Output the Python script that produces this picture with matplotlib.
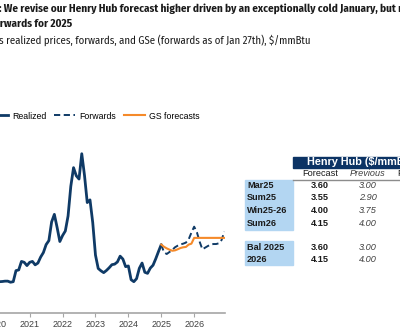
import numpy as np
import matplotlib
matplotlib.use("Agg")
import matplotlib.pyplot as plt
from matplotlib.lines import Line2D
from matplotlib.patches import Rectangle

# monthly Henry Hub, $/mmBtu, Jan 2020 .. Jan 2025
realized = [1.75, 1.73, 1.74, 1.76, 1.76, 1.70, 1.73, 2.34, 2.38, 2.85, 2.80, 2.62,
            2.80, 2.85, 2.66, 2.76, 3.09, 3.34, 3.78, 4.00, 5.03, 5.45, 4.73, 3.95,
            4.28, 4.53, 5.36, 7.00, 8.03, 7.58, 7.40, 8.80, 7.60, 6.10, 6.25, 5.00,
            3.20, 2.46, 2.33, 2.23, 2.35, 2.50, 2.67, 2.70, 2.82, 3.14, 2.98, 2.56,
            2.60, 1.84, 1.73, 1.90, 2.47, 2.76, 2.25, 2.19, 2.48, 2.64, 3.00, 3.40,
            3.78]
# Jan 2025 .. Dec 2026
forwards = [3.78, 3.35, 3.26, 3.37, 3.48, 3.63, 3.72, 3.79, 3.83, 3.89, 4.07, 4.44,
            4.77, 4.46, 3.94, 3.52, 3.61, 3.70, 3.78, 3.81, 3.81, 3.85, 4.03, 4.49]
gs_fcst = [3.78, 3.66, 3.57, 3.50, 3.44, 3.46, 3.52, 3.59, 3.63, 3.65, 3.78, 3.83,
           4.15, 4.15, 4.15, 4.15, 4.15, 4.15, 4.15, 4.15, 4.15, 4.15, 4.15, 4.15]
years = [2020, 2021, 2022, 2023, 2024, 2025, 2026]

periods = ["Mar25", "Sum25", "Win25-26", "Sum26"]
fc_vals = ["3.60", "3.55", "4.00", "4.15"]
prev_vals = ["3.00", "2.90", "3.75", "4.00"]
annual = ["Bal 2025", "2026"]
fc_annual = ["3.60", "4.15"]
prev_annual = ["3.00", "4.00"]

navy = "#0f3a66"
orange = "#f58a2a"
title_font = "Fira Sans Condensed"

t_real = 2020 + np.arange(len(realized)) / 12
t_fwd = 2025 + np.arange(len(forwards)) / 12

W, H = 400, 334
fig = plt.figure(figsize=(4, 3.34), dpi=100)

def fx(px):
    return px / W

def fy(py):
    return 1 - py / H

ax = fig.add_axes([fx(-36.1), fy(313), fx(261.5), 181 / H])
ax.plot(t_real, realized, color=navy, lw=2.0, solid_capstyle="round")
ax.plot(t_fwd, forwards, color=navy, lw=1.4, ls=(0, (3.2, 1.8)))
ax.plot(t_fwd, gs_fcst, color=orange, lw=1.5)
ax.set_xlim(2019.0, 2026.95)
ax.set_ylim(0, 10)
for s in ["top", "right", "left"]:
    ax.spines[s].set_visible(False)
ax.spines["bottom"].set_color("#a6a6a6")
ax.spines["bottom"].set_linewidth(1.2)
ax.set_yticks([])
ax.set_xticks(years)
ax.set_xticklabels([str(y) for y in years], fontsize=6.5, color="#404040",
                   family="Liberation Sans")
ax.tick_params(axis="x", length=3, width=0.8, color="#a6a6a6", pad=2)

handles = [Line2D([], [], color=navy, lw=2.0),
           Line2D([], [], color=navy, lw=1.4, ls=(0, (3.2, 1.8))),
           Line2D([], [], color=orange, lw=1.5)]
fig.legend(handles, ["Realized", "Forwards", "GS forecasts"], ncol=3,
           loc="center left", bbox_to_anchor=(fx(-14), fy(116)),
           frameon=False, borderpad=0, borderaxespad=0,
           prop={"family": "Liberation Sans", "size": 6.3},
           handlelength=2.5, handletextpad=0.45, columnspacing=0.85)

# title block
fig.text(fx(-1), fy(9), ": We revise our Henry Hub forecast higher driven by an "
         "exceptionally cold January, but remain below",
         fontsize=8.0, fontweight="bold", family=title_font,
         color="#1a1a1a", va="center", ha="left")
line2 = fig.text(0, fy(24), "forwards for 2025", fontsize=8.0, fontweight="bold",
                 family=title_font, color="#1a1a1a", va="center", ha="left")
fig.text(fx(-1), fy(40), "s realized prices, forwards, and GSe (forwards as of "
         "Jan 27th), $/mmBtu", fontsize=7.7, family=title_font,
         color="#1a1a1a", va="center", ha="left")

# push the wrapped line left so its first two letters sit past the edge
renderer = fig.canvas.get_renderer()
probe = fig.text(0, 0, "fo", fontsize=8.0, fontweight="bold", family=title_font)
fo_w = probe.get_window_extent(renderer).width
probe.remove()
line2.set_x(-fo_w / W)

# side table
tab_font = {"family": "Liberation Sans", "size": 6.6}
fig.patches.append(Rectangle((fx(293), fy(168)), fx(120), 11 / H,
                             transform=fig.transFigure, color="#0c3364"))
fig.text(fx(307), fy(162.5), "Henry Hub ($/mmBtu)", color="white",
         fontweight="bold", va="center", family="Liberation Sans", size=7.8)
fig.text(fx(320), fy(174), "Forecast", ha="center", va="center", color="#1a1a1a",
         **tab_font)
fig.text(fx(368), fy(174), "Previous", ha="center", va="center", style="italic",
         color="#404040", **tab_font)
fig.text(fx(397.5), fy(174), "Forwards", ha="left", va="center", color="#1a1a1a",
         **tab_font)
fig.lines.append(Line2D([fx(293), fx(405)], [fy(179.5), fy(179.5)],
                        transform=fig.transFigure, color="#8c8c8c", lw=1.0))

fig.patches.append(Rectangle((fx(245), fy(230)), fx(48), 50 / H,
                             transform=fig.transFigure, color="#b3d6f2"))
fig.patches.append(Rectangle((fx(245), fy(265)), fx(48), 24 / H,
                             transform=fig.transFigure, color="#b3d6f2"))

row_y = [185, 197.5, 210.5, 223]
for yy, p, f, pv in zip(row_y, periods, fc_vals, prev_vals):
    fig.text(fx(247), fy(yy), p, fontweight="bold", va="center", color="#1a1a1a",
             **tab_font)
    fig.text(fx(319.5), fy(yy), f, fontweight="bold", ha="center", va="center",
             color="#1a1a1a", **tab_font)
    fig.text(fx(367.5), fy(yy), pv, style="italic", ha="center", va="center",
             color="#404040", **tab_font)

for yy, p, f, pv in zip([247.5, 260], annual, fc_annual, prev_annual):
    fig.text(fx(247), fy(yy), p, fontweight="bold", va="center", color="#1a1a1a",
             **tab_font)
    fig.text(fx(319.5), fy(yy), f, fontweight="bold", ha="center", va="center",
             color="#1a1a1a", **tab_font)
    fig.text(fx(367.5), fy(yy), pv, style="italic", ha="center", va="center",
             color="#404040", **tab_font)

fig.savefig("out.png", dpi=100)
